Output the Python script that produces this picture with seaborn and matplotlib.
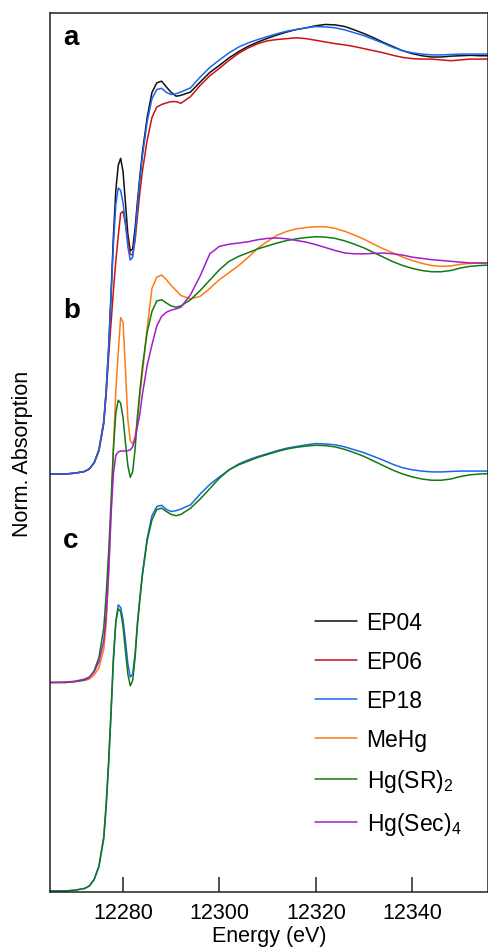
import numpy as np
import pandas as pd
import seaborn as sns
import matplotlib
matplotlib.use('Agg')
import matplotlib.pyplot as plt

# energy grid (eV) shared by all spectra
energy = [12265, 12268, 12270, 12272, 12273, 12274, 12275, 12276, 12276.5, 12277,
          12277.5, 12278, 12278.5, 12279, 12279.5, 12280, 12280.5, 12281, 12281.5, 12282,
          12282.5, 12283, 12283.5, 12284, 12285, 12286, 12287, 12288, 12289, 12290,
          12291, 12292, 12294, 12296, 12298, 12300, 12302, 12304, 12306, 12308,
          12310, 12312, 12314, 12316, 12318, 12320, 12322, 12324, 12326, 12328,
          12330, 12332, 12334, 12336, 12338, 12340, 12342, 12344, 12346, 12348,
          12350, 12352, 12354, 12356]

# normalized absorption
ep04 = [0.0, 0.0, 0.002, 0.006, 0.012, 0.027, 0.058, 0.125, 0.2, 0.3,
        0.43, 0.57, 0.68, 0.74, 0.757, 0.725, 0.65, 0.575, 0.535, 0.54,
        0.59, 0.655, 0.715, 0.77, 0.855, 0.915, 0.938, 0.942, 0.928, 0.915,
        0.906, 0.908, 0.916, 0.94, 0.963, 0.98, 0.998, 1.013, 1.026, 1.036,
        1.045, 1.053, 1.06, 1.066, 1.07, 1.075, 1.078, 1.077, 1.073, 1.065,
        1.056, 1.046, 1.035, 1.025, 1.015, 1.008, 1.003, 1.0, 1.0, 1.002,
        1.003, 1.004, 1.003, 1.003]
ep06 = [0.0, 0.0, 0.002, 0.006, 0.012, 0.026, 0.055, 0.12, 0.19, 0.28,
        0.36, 0.44, 0.51, 0.57, 0.625, 0.63, 0.6, 0.56, 0.527, 0.525,
        0.56, 0.62, 0.675, 0.725, 0.8, 0.855, 0.88, 0.886, 0.89, 0.893,
        0.893, 0.889, 0.905, 0.932, 0.955, 0.973, 0.992, 1.009, 1.022, 1.032,
        1.039, 1.042, 1.044, 1.046, 1.044, 1.04, 1.036, 1.032, 1.029, 1.025,
        1.02, 1.015, 1.01, 1.004, 0.999, 0.996, 0.995, 0.995, 0.993, 0.991,
        0.993, 0.995, 0.995, 0.995]
ep18 = [0.0, 0.0, 0.002, 0.006, 0.012, 0.027, 0.058, 0.125, 0.2, 0.3,
        0.42, 0.55, 0.645, 0.686, 0.68, 0.65, 0.6, 0.545, 0.513, 0.52,
        0.57, 0.645, 0.705, 0.76, 0.845, 0.9, 0.922, 0.925, 0.915, 0.91,
        0.912, 0.916, 0.926, 0.952, 0.975, 0.993, 1.01, 1.024, 1.034, 1.042,
        1.049, 1.056, 1.062, 1.066, 1.07, 1.073, 1.072, 1.07, 1.065, 1.058,
        1.051, 1.042, 1.033, 1.023, 1.015, 1.01, 1.007, 1.005, 1.005, 1.006,
        1.007, 1.007, 1.007, 1.007]
mehg = [0.0, 0.0, 0.002, 0.005, 0.008, 0.018, 0.035, 0.08, 0.14, 0.26,
        0.4, 0.56, 0.7, 0.79, 0.875, 0.865, 0.75, 0.63, 0.58, 0.572,
        0.59, 0.63, 0.69, 0.74, 0.85, 0.945, 0.972, 0.977, 0.966, 0.952,
        0.94, 0.928, 0.92, 0.926, 0.945, 0.966, 0.983, 1.0, 1.02, 1.042,
        1.058, 1.073, 1.082, 1.088, 1.091, 1.093, 1.093, 1.089, 1.082, 1.073,
        1.063, 1.051, 1.04, 1.03, 1.02, 1.012, 1.005, 1.0, 0.998, 0.999,
        1.003, 1.005, 1.006, 1.006]
hg_sr2 = [0.0, 0.0, 0.002, 0.006, 0.012, 0.028, 0.06, 0.13, 0.21, 0.31,
          0.43, 0.56, 0.645, 0.677, 0.67, 0.635, 0.575, 0.52, 0.492, 0.505,
          0.56, 0.64, 0.7, 0.755, 0.84, 0.89, 0.915, 0.918, 0.91, 0.903,
          0.9, 0.903, 0.918, 0.94, 0.965, 0.99, 1.01, 1.022, 1.031, 1.04,
          1.047, 1.054, 1.06, 1.064, 1.067, 1.069, 1.068, 1.065, 1.059, 1.051,
          1.042, 1.031, 1.02, 1.009, 1.0, 0.993, 0.988, 0.985, 0.985, 0.988,
          0.994, 0.998, 1.0, 1.001]
hg_sec4 = [0.0, 0.001, 0.003, 0.008, 0.013, 0.025, 0.05, 0.1, 0.16, 0.26,
           0.4, 0.5, 0.545, 0.553, 0.555, 0.555, 0.555, 0.556, 0.558, 0.565,
           0.585, 0.615, 0.645, 0.69, 0.76, 0.81, 0.855, 0.878, 0.888, 0.893,
           0.896, 0.9, 0.93, 0.975, 1.028, 1.046, 1.051, 1.054, 1.057, 1.062,
           1.065, 1.066, 1.064, 1.06, 1.056, 1.05, 1.043, 1.036, 1.03, 1.028,
           1.028, 1.029, 1.03, 1.028, 1.025, 1.02, 1.017, 1.014, 1.012, 1.01,
           1.008, 1.006, 1.006, 1.006]

x_ticks = [12280, 12300, 12320, 12340]
panel_letters = ['a', 'b', 'c']
panel_offsets = [1.0, 0.5, 0.0]

colors = {
    'EP04': '#111111',
    'EP06': '#cc1111',
    'EP18': '#1a66ee',
    'MeHg': '#ff7a14',
    'Hg(SR)$_\\mathregular{2}$': '#127a12',
    'Hg(Sec)$_\\mathregular{4}$': '#a020c8',
}
series = {
    'EP04': ep04, 'EP06': ep06, 'EP18': ep18, 'MeHg': mehg,
    'Hg(SR)$_\\mathregular{2}$': hg_sr2, 'Hg(Sec)$_\\mathregular{4}$': hg_sec4,
}
panels = [
    ['EP04', 'EP06', 'EP18'],
    ['MeHg', 'Hg(SR)$_\\mathregular{2}$', 'Hg(Sec)$_\\mathregular{4}$'],
    ['EP18', 'Hg(SR)$_\\mathregular{2}$'],
]

sns.set_theme(style='ticks')
plt.rcParams['font.family'] = ['Liberation Sans', 'DejaVu Sans']
plt.rcParams['mathtext.fontset'] = 'custom'
plt.rcParams['mathtext.rm'] = 'Liberation Sans'
plt.rcParams['text.color'] = 'black'
plt.rcParams['axes.labelcolor'] = 'black'
plt.rcParams['xtick.labelcolor'] = 'black'

fig = plt.figure(figsize=(4.88, 9.53), dpi=100)
ax = fig.add_axes([50 / 488, 60 / 953, 438 / 488, 879 / 953])

seen = set()
for names, off in zip(panels, panel_offsets):
    for name in names:
        df = pd.DataFrame({'E': energy, 'mu': np.array(series[name]) + off})
        lab = name if name not in seen else '_nolegend_'
        seen.add(name)
        sns.lineplot(data=df, x='E', y='mu', color=colors[name], lw=1.1,
                     label=lab, ax=ax, legend=False)

for letter, ypos in zip(panel_letters, [2.031, 1.376, 0.825]):
    ax.text(12267.6, ypos, letter, fontsize=20, fontweight='bold', va='baseline', ha='left')

ax.set_xlim(12264.85, 12355.7)
ax.set_ylim(-0.0024, 2.1055)
ax.set_xticks(x_ticks)
ax.set_xticklabels([str(t) for t in x_ticks])
ax.set_yticks([])
ax.tick_params(axis='x', direction='in', length=10.5, width=1.1, labelsize=15.5, pad=7, color='#222222')
ax.set_xlabel('Energy (eV)', fontsize=15.5, labelpad=2)
ax.set_ylabel('Norm. Absorption', fontsize=15.5, labelpad=12)
for s in ax.spines.values():
    s.set_linewidth(1.1)
    s.set_color('#222222')

ax.legend(loc='upper left', bbox_to_anchor=(0.605, 0.320), frameon=False, fontsize=16.5,
          handlelength=1.85, handletextpad=0.4, labelspacing=0.7, borderpad=0, borderaxespad=0)

fig.savefig('out.png', dpi=100)
